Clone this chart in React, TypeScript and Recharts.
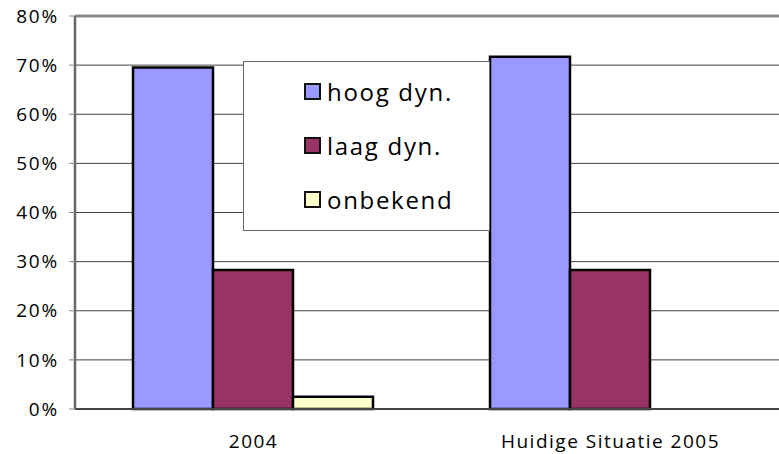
import React from "react";
import { Bar, BarChart, CartesianGrid, ReferenceLine, XAxis, YAxis } from "recharts";

const categories = ["2004", "Huidige Situatie 2005"];
const hoog = [69.5, 71.7];
const laag = [28.3, 28.3];
const onbekend = [2.5, 0];
const yTicks = [0, 10, 20, 30, 40, 50, 60, 70, 80];

const series = [
  { key: "hoog", name: "hoog dyn.", color: "#9999FF" },
  { key: "laag", name: "laag dyn.", color: "#993366" },
  { key: "onbekend", name: "onbekend", color: "#FFFFCC" },
];

const data = categories.map((cat, i) => ({
  cat,
  hoog: hoog[i],
  laag: laag[i],
  onbekend: onbekend[i],
}));

const font = "'Open Sans', sans-serif";

function ChartLegend() {
  return (
    <div
      style={{
        position: "absolute",
        left: 243,
        top: 61,
        width: 247,
        height: 170,
        boxSizing: "border-box",
        background: "#fff",
        border: "1px solid #666",
        paddingTop: 2,
        fontFamily: font,
        fontSize: 24,
        letterSpacing: 1.7,
        color: "#000",
      }}
    >
      {series.map((s) => (
        <div
          key={s.key}
          style={{ height: 54, display: "flex", alignItems: "center", paddingLeft: 60 }}
        >
          <span
            style={{
              width: 17,
              height: 17,
              boxSizing: "border-box",
              background: s.color,
              border: "2.5px solid #111",
              marginRight: 6,
              display: "inline-block",
            }}
          />
          <span>{s.name}</span>
        </div>
      ))}
    </div>
  );
}

export default function App() {
  return (
    <div
      style={{
        position: "absolute",
        left: 0,
        top: 0,
        width: 779,
        height: 454,
        overflow: "hidden",
        background: "#fff",
      }}
    >
      <BarChart
        width={790}
        height={454}
        data={data}
        margin={{ top: 16, right: 1, left: 0, bottom: 0 }}
        barCategoryGap={58}
        barGap={0}
      >
        <CartesianGrid vertical={false} stroke="#444" strokeWidth={1} />
        <XAxis
          dataKey="cat"
          height={45}
          tickLine={false}
          tickSize={6}
          tickMargin={20}
          axisLine={{ stroke: "#444", strokeWidth: 2 }}
          tick={{ fontSize: 19, fill: "#000", fontFamily: font, letterSpacing: 1.5 }}
        />
        <YAxis
          width={75}
          domain={[0, 80]}
          ticks={yTicks}
          tickFormatter={(v) => `${v}%`}
          tickSize={6}
          tickMargin={10}
          axisLine={{ stroke: "#666", strokeWidth: 2.5 }}
          tickLine={{ stroke: "#888" }}
          tick={{ fontSize: 19, fill: "#000", fontFamily: font, letterSpacing: 1.8 }}
        />
        <ReferenceLine y={80} stroke="#8a8a8a" strokeWidth={3} />
        {series.map((s) => (
          <Bar
            key={s.key}
            dataKey={s.key}
            name={s.name}
            fill={s.color}
            stroke="#000"
            strokeWidth={2.5}
            isAnimationActive={false}
          />
        ))}
      </BarChart>
      <ChartLegend />
    </div>
  );
}
